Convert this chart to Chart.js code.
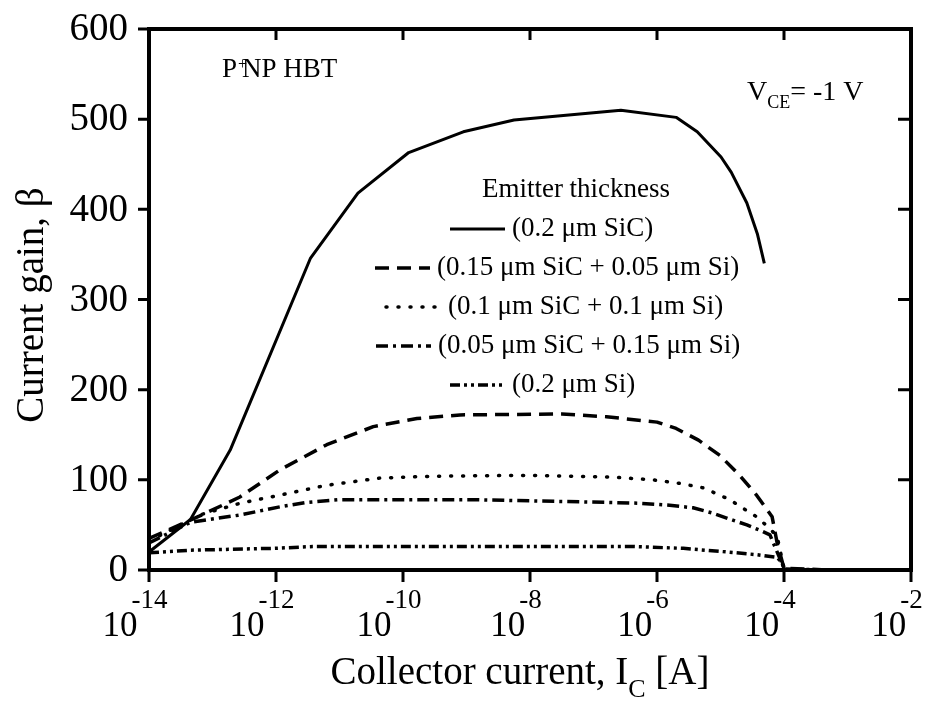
<!DOCTYPE html>
<html>
<head>
<meta charset="utf-8">
<script src="https://cdn.jsdelivr.net/npm/chart.js@4/dist/chart.umd.min.js"></script>
<style>
html, body { margin: 0; padding: 0; background: #fff; }
#wrap { width: 928px; height: 704px; }
</style>
</head>
<body>
<div id="wrap"><canvas id="chart" width="928" height="704"></canvas></div>
<script>
// Series (emitter thickness)
const seriesNames = [
    '(0.2 \u03bcm SiC)',
    '(0.15 \u03bcm SiC + 0.05 \u03bcm Si)',
    '(0.1 \u03bcm SiC + 0.1 \u03bcm Si)',
    '(0.05 \u03bcm SiC + 0.15 \u03bcm Si)',
    '(0.2 \u03bcm Si)'
];

// collector current [A] / current gain
const icSiC = [1e-14, 4.5e-14, 1.9e-13, 3.5e-12, 1.95e-11, 1.23e-10, 8.9e-10, 5.6e-9, 2.7e-7, 2.0e-6, 4.3e-6, 1.02e-5, 1.48e-5, 2.6e-5, 3.8e-5, 4.9e-5];
const betaSiC = [20, 56, 133, 346, 418, 463, 486, 499, 510, 502, 486, 458, 441, 407, 373, 340];

const ic15 = [1e-14, 6.3e-14, 2.7e-13, 1.15e-12, 6.3e-12, 3.4e-11, 1.66e-10, 7.9e-10, 3.2e-8, 1.6e-7, 1.0e-6, 2.0e-6, 4.5e-6, 9.8e-6, 2.0e-5, 3.7e-5, 6.5e-5, 7.8e-5, 1.0e-4, 5.0e-4];
const beta15 = [35, 60, 81, 111, 139, 159, 168, 172, 173, 170, 164, 157, 144, 127, 105, 83, 59, 30, 2, 0];

const ic10 = [1e-14, 6.3e-14, 2.7e-13, 1.15e-12, 6.3e-12, 4.4e-11, 2.95e-10, 1e-8, 2.0e-7, 8.7e-7, 2.3e-6, 5.4e-6, 1.4e-5, 2.2e-5, 3.7e-5, 6.0e-5, 7.8e-5, 1.0e-4];
const beta10 = [32, 61, 74, 83, 94, 102, 104, 105, 103, 100, 96, 91, 78, 69, 59, 46, 37, 2];

const ic05 = [1e-14, 4.5e-14, 2.7e-13, 1.15e-12, 3.1e-12, 1.0e-11, 1.15e-9, 1.6e-7, 5.4e-7, 1.45e-6, 3.7e-6, 7.6e-6, 1.6e-5, 2.6e-5, 4.2e-5, 6.0e-5, 1.0e-4];
const beta05 = [30, 53, 61, 70, 75, 78, 78, 75, 74, 72, 69, 63, 55, 50, 44, 39, 2];

const icSi = [1e-14, 4.5e-14, 8.9e-13, 3.8e-12, 4.2e-7, 2.6e-6, 1.26e-5, 3.7e-5, 7.8e-5, 9.3e-5, 1.0e-4, 5.4e-4];
const betaSi = [19, 22, 24, 26, 26, 24, 20, 17, 14, 8, 1, 0];

// axis ticks
const xTickValues = [1e-14, 1e-12, 1e-10, 1e-8, 1e-6, 1e-4, 1e-2];
const xTickExponents = ['-14', '-12', '-10', '-8', '-6', '-4', '-2'];
const yTickValues = [0, 100, 200, 300, 400, 500, 600];

const currents = [icSiC, ic15, ic10, ic05, icSi];
const gains = [betaSiC, beta15, beta10, beta05, betaSi];

// line styles
const dashStyles = [[], [14, 8], [1, 11], [12, 5, 3, 5], [10, 4, 3, 4, 3, 4]];
const capStyles = ['butt', 'butt', 'round', 'butt', 'butt'];
const lineWidths = [3, 3.5, 3.5, 3.5, 3.5];

const serif = '"Liberation Serif", "Times New Roman", serif';

const datasets = seriesNames.map((name, i) => ({
    label: name,
    data: currents[i].map((x, j) => ({ x: x, y: gains[i][j] })),
    showLine: true,
    borderColor: '#000',
    backgroundColor: '#000',
    borderWidth: lineWidths[i],
    borderDash: dashStyles[i],
    borderCapStyle: capStyles[i],
    borderJoinStyle: 'round',
    pointRadius: 0,
    tension: 0,
    fill: false
}));

// frame, ticks, labels, annotations and the in-plot legend
const framePlugin = {
    id: 'frame',
    afterDraw(chart) {
        const { ctx, chartArea: a, scales: { x, y } } = chart;
        ctx.save();
        ctx.strokeStyle = '#000';
        ctx.fillStyle = '#000';
        ctx.setLineDash([]);

        ctx.lineWidth = 4;
        ctx.strokeRect(a.left, a.top, a.right - a.left, a.bottom - a.top);

        ctx.lineWidth = 3;
        ctx.beginPath();
        xTickValues.forEach(v => {
            const px = x.getPixelForValue(v);
            ctx.moveTo(px, a.bottom); ctx.lineTo(px, a.bottom + 12);
            ctx.moveTo(px, a.top); ctx.lineTo(px, a.top + 11);
        });
        yTickValues.forEach(v => {
            const py = y.getPixelForValue(v);
            ctx.moveTo(a.left - 11, py); ctx.lineTo(a.left, py);
            ctx.moveTo(a.right - 13, py); ctx.lineTo(a.right, py);
        });
        ctx.stroke();

        // y tick labels
        ctx.font = '39px ' + serif;
        ctx.textAlign = 'right';
        ctx.textBaseline = 'middle';
        yTickValues.forEach(v => {
            ctx.fillText(String(v), a.left - 21, y.getPixelForValue(v) + 1);
        });

        // x tick labels 10^n
        ctx.textAlign = 'left';
        ctx.textBaseline = 'alphabetic';
        xTickValues.forEach((v, i) => {
            const px = x.getPixelForValue(v);
            ctx.font = '35px ' + serif;
            const w10 = ctx.measureText('10').width;
            ctx.font = '27px ' + serif;
            const wExp = ctx.measureText(xTickExponents[i]).width;
            const start = px - 14 - (w10 + wExp - 6) / 2;
            ctx.font = '35px ' + serif;
            ctx.fillText('10', start, 636);
            ctx.font = '27px ' + serif;
            ctx.fillText(xTickExponents[i], start + w10 - 6, 608);
        });

        // x axis title with subscript
        ctx.font = '39px ' + serif;
        const tMain = 'Collector current, I';
        const tTail = ' [A]';
        const wMain = ctx.measureText(tMain).width;
        const wTail = ctx.measureText(tTail).width;
        ctx.font = '26px ' + serif;
        const wSub = ctx.measureText('C').width;
        let tx = 520 - (wMain + wSub + wTail) / 2;
        ctx.font = '39px ' + serif;
        ctx.fillText(tMain, tx, 684);
        ctx.font = '26px ' + serif;
        ctx.fillText('C', tx + wMain, 697);
        ctx.font = '39px ' + serif;
        ctx.fillText(tTail, tx + wMain + wSub, 684);

        // y axis title
        ctx.save();
        ctx.translate(43, 305);
        ctx.rotate(-Math.PI / 2);
        ctx.textAlign = 'center';
        ctx.font = '39px ' + serif;
        ctx.fillText('Current gain, \u03b2', 0, 0);
        ctx.restore();

        // device label
        ctx.textAlign = 'left';
        ctx.font = '27px ' + serif;
        ctx.fillText('P', 222, 77);
        ctx.fillText('NP HBT', 242, 77);
        ctx.font = '16px ' + serif;
        ctx.fillText('+', 238, 69);

        // bias label
        ctx.font = '28px ' + serif;
        let vx = 747;
        ctx.fillText('V', vx, 100);
        vx += ctx.measureText('V').width;
        ctx.font = '18px ' + serif;
        ctx.fillText('CE', vx, 108);
        vx += ctx.measureText('CE').width;
        ctx.font = '28px ' + serif;
        ctx.fillText('= -1 V', vx, 100);

        // legend
        ctx.font = '27px ' + serif;
        ctx.textAlign = 'center';
        ctx.fillText('Emitter thickness', 576, 197);
        ctx.textAlign = 'left';
        const legendTextX = [512, 437, 448, 438, 512];
        chart.data.datasets.forEach((ds, i) => {
            const base = 236 + 39 * i;
            const tx0 = legendTextX[i];
            ctx.save();
            ctx.lineWidth = ds.borderWidth;
            ctx.setLineDash(ds.borderDash);
            ctx.lineCap = ds.borderCapStyle;
            ctx.beginPath();
            ctx.moveTo(tx0 - 62, base - 7);
            ctx.lineTo(tx0 - 7, base - 7);
            ctx.stroke();
            ctx.restore();
            ctx.fillText(ds.label, tx0, base);
        });

        ctx.restore();
    }
};

new Chart(document.getElementById('chart'), {
    type: 'scatter',
    data: { datasets: datasets },
    options: {
        responsive: false,
        animation: false,
        devicePixelRatio: 1,
        layout: { padding: { top: 29, right: 17, left: 0, bottom: 0 } },
        plugins: {
            legend: { display: false },
            tooltip: { enabled: false }
        },
        scales: {
            x: {
                type: 'logarithmic',
                min: 1e-14,
                max: 1e-2,
                ticks: { display: false },
                grid: { display: false },
                border: { display: false },
                afterFit: s => { s.height = 134; }
            },
            y: {
                min: 0,
                max: 600,
                ticks: { display: false },
                grid: { display: false },
                border: { display: false },
                afterFit: s => { s.width = 149; }
            }
        }
    },
    plugins: [framePlugin]
});
</script>
</body>
</html>
